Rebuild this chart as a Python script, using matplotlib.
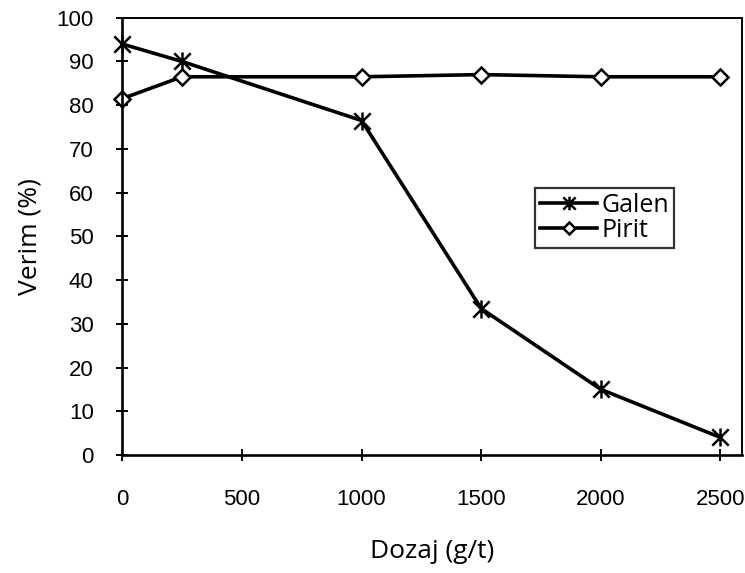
import matplotlib.pyplot as plt
from matplotlib.path import Path

# Dosage (g/t) and recovery (%) for each mineral
dozaj = [0, 250, 1000, 1500, 2000, 2500]
galen = [94, 90, 76.5, 33.5, 15, 4]
pirit = [81.5, 86.5, 86.5, 87, 86.5, 86.5]

xticks = [0, 500, 1000, 1500, 2000, 2500]
yticks = list(range(0, 101, 10))

# star marker: an X with a vertical bar through it
star = Path([(-1, -1), (1, 1), (-1, 1), (1, -1), (0, -1.1), (0, 1.1)],
            [Path.MOVETO, Path.LINETO, Path.MOVETO, Path.LINETO,
             Path.MOVETO, Path.LINETO])

fig = plt.figure(figsize=(7.45, 5.73), dpi=100)
ax = fig.add_axes([0.164, 0.206, 0.832, 0.763])

ax.plot(dozaj, galen, color='black', linewidth=2.6, clip_on=False,
        marker=star, markersize=13, markeredgewidth=1.8, label='Galen')
ax.plot(dozaj, pirit, color='black', linewidth=2.6, clip_on=False,
        marker='D', markersize=8, markerfacecolor='white',
        markeredgecolor='black', markeredgewidth=1.8, label='Pirit')

ax.set_xlim(0, 2590)
ax.set_ylim(0, 100)
ax.set_xticks(xticks)
ax.set_yticks(yticks)
ax.tick_params(direction='inout', length=9, width=1.4, labelsize=16)
ax.tick_params(axis='y', pad=16)
ax.tick_params(axis='x', pad=20)
for lbl in ax.get_xticklabels() + ax.get_yticklabels():
    lbl.set_family('Liberation Sans')

for side in ['left', 'bottom']:
    ax.spines[side].set_linewidth(1.9)
for side in ['top', 'right']:
    ax.spines[side].set_linewidth(1.4)

ax.set_xlabel('Dozaj (g/t)', fontsize=19, family='Open Sans', labelpad=21)
ax.set_ylabel('Verim (%)', fontsize=19, family='Open Sans', labelpad=10)

leg = ax.legend(loc='center', bbox_to_anchor=(0.811, 0.62),
                bbox_transform=fig.transFigure, frameon=True, fancybox=False,
                prop={'family': 'Open Sans', 'size': 18},
                handlelength=2.3, handletextpad=0.15, borderpad=0.2,
                labelspacing=0.0, borderaxespad=0, markerscale=0.75)
leg.get_frame().set_edgecolor('black')
leg.get_frame().set_linewidth(1.6)

fig.savefig('out.png', dpi=100)
